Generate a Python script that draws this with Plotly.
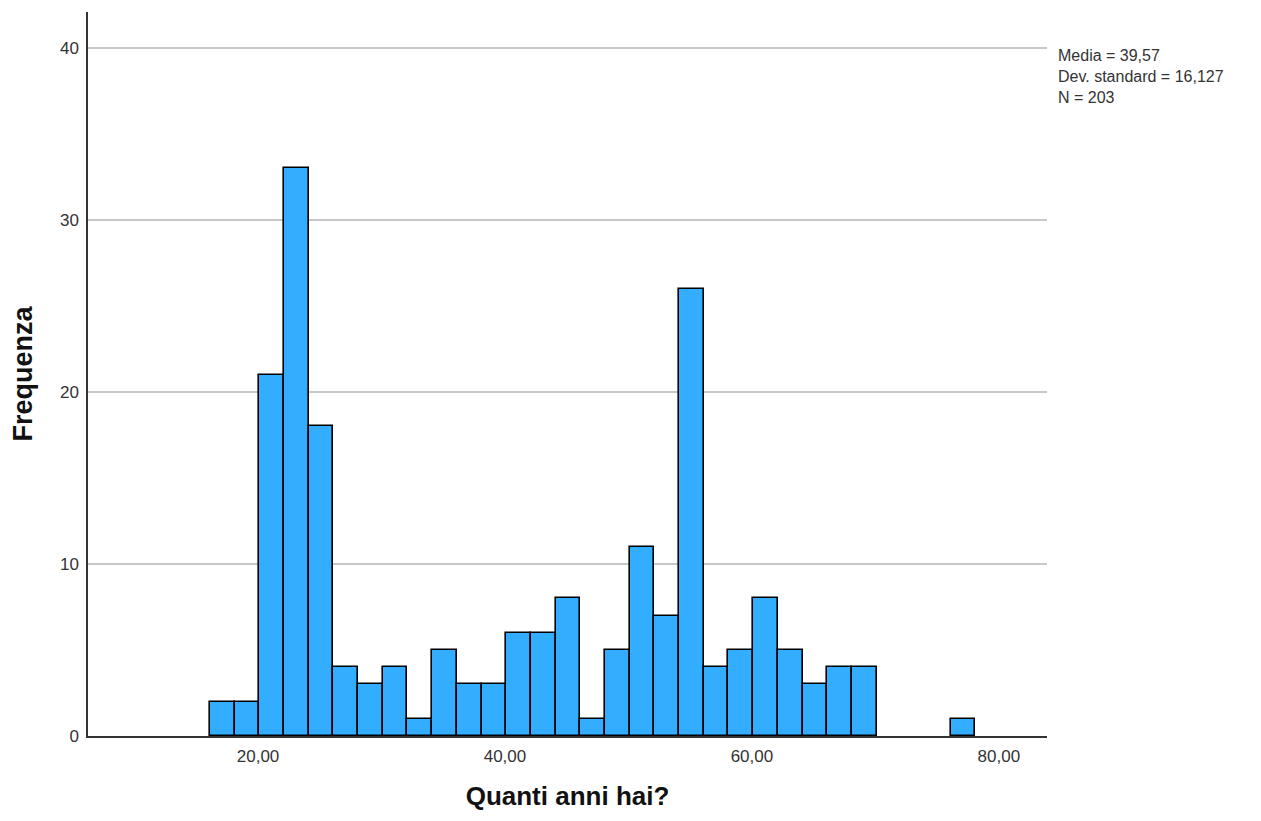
import plotly.graph_objects as go

# Age bins (lower edges), width 2 years
bin_start = [16.1, 18.1, 20.1, 22.1, 24.1, 26.1, 28.1, 30.1, 32.1, 34.1, 36.1, 38.1,
             40.1, 42.1, 44.1, 46.1, 48.1, 50.1, 52.1, 54.1, 56.1, 58.1, 60.1, 62.1,
             64.1, 66.1, 68.1, 70.1, 72.1, 74.1, 76.1]
counts = [2, 2, 21, 33, 18, 4, 3, 4, 1, 5, 3, 3,
          6, 6, 8, 1, 5, 11, 7, 26, 4, 5, 8, 5,
          3, 4, 4, 0, 0, 0, 1]
bin_width = 2.0
x_ticks = [20, 40, 60, 80]
x_tick_labels = ["20,00", "40,00", "60,00", "80,00"]
y_ticks = [0, 10, 20, 30, 40]
stats_lines = ["Media = 39,57", "Dev. standard = 16,127", "N = 203"]

# only non-empty bins are drawn (empty bins have no outline)
xs = [b + bin_width / 2 for b, c in zip(bin_start, counts) if c > 0]
ys = [c for c in counts if c > 0]

fig = go.Figure()
fig.add_trace(go.Bar(
    x=xs, y=ys, width=[bin_width] * len(xs),
    marker=dict(color="#33ADFF", line=dict(color="black", width=1.6)),
    hoverinfo="x+y",
))

font_family = "Liberation Sans, Arial, sans-serif"
# page body has an 8px margin; plot area should span x 88..1047, y 12..736
fig.update_layout(
    width=1261, height=821,
    margin=dict(l=80, r=222, t=4, b=93),
    plot_bgcolor="white", paper_bgcolor="white",
    showlegend=False,
    bargap=0,
    font=dict(family=font_family, color="#333333", size=18),
    xaxis=dict(
        range=[6.23, 83.9], tickvals=x_ticks, ticktext=x_tick_labels,
        showgrid=False, zeroline=False, showline=True, linecolor="#333333", linewidth=1.5,
        ticks="outside", ticklen=4, tickcolor="rgba(0,0,0,0)",
        tickfont=dict(size=17, color="#333333"),
        title=dict(text="<b>Quanti anni hai?</b>", font=dict(size=26, color="#111111"), standoff=22),
    ),
    yaxis=dict(
        range=[0, 42.1], tickvals=y_ticks,
        showgrid=True, gridcolor="#C8C8C8", gridwidth=1.5,
        zeroline=False, showline=True, linecolor="#333333", linewidth=1.5,
        ticks="outside", ticklen=4, tickcolor="rgba(0,0,0,0)",
        tickfont=dict(size=17, color="#333333"),
        title=dict(text="<b>Frequenza</b>", font=dict(size=27, color="#111111"), standoff=24),
    ),
)

# stats box at the top right, outside the plot area
fig.add_annotation(
    x=1.0, y=1 - (45 - 12) / 724,
    xref="paper", yref="paper", xanchor="left", yanchor="top",
    xshift=9, text="<br>".join(stats_lines), showarrow=False, align="left",
    font=dict(size=16, color="#333333", family=font_family),
)

fig.write_html("out.html")
